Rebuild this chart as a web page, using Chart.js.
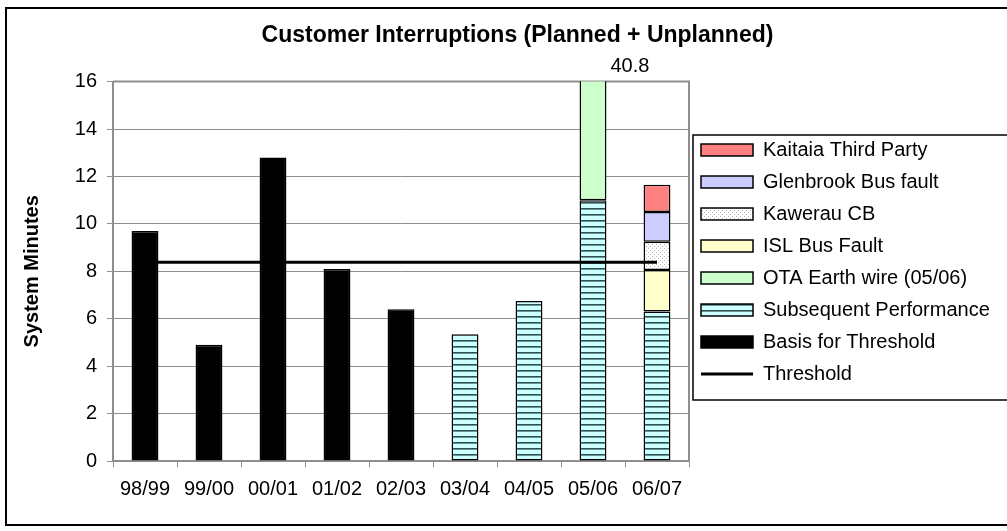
<!DOCTYPE html>
<html>
<head>
<meta charset="utf-8">
<script src="https://cdn.jsdelivr.net/npm/chart.js@4.4.1/dist/chart.umd.min.js"></script>
<style>
  html, body { margin: 0; padding: 0; overflow: hidden; background: #fff; }
  #wrap { position: relative; width: 1035px; height: 531px; }
  #frame { position: absolute; left: 5px; top: 7px; width: 1030px; height: 515px; border: 2px solid #000; pointer-events: none; }
</style>
</head>
<body>
<div id="wrap">
  <canvas id="chart"></canvas>
</div>
<div id="frame"></div>
<script>
const years = ['98/99', '99/00', '00/01', '01/02', '02/03', '03/04', '04/05', '05/06', '06/07'];

const basisForThreshold = [9.7, 4.9, 12.8, 8.1, 6.4, null, null, null, null];
const subsequentPerformance = [null, null, null, null, null, 5.35, 6.75, 11.0, 6.3];
const otaEarthWire = [null, null, null, null, null, null, null, 29.8, null];
const islBusFault = [null, null, null, null, null, null, null, null, 1.75];
const kawerauCB = [null, null, null, null, null, null, null, null, 1.2];
const glenbrookBusFault = [null, null, null, null, null, null, null, null, 1.25];
const kaitaiaThirdParty = [null, null, null, null, null, null, null, null, 1.15];
const threshold = [8.38, 8.38, 8.38, 8.38, 8.38, 8.38, 8.38, 8.38, 8.38];

const yTicks = [0, 2, 4, 6, 8, 10, 12, 14, 16];

const FONT = 'Arial, "Liberation Sans", sans-serif';
const GREY = '#8f8f8f';
const CANVAS_W = 1035;   // the original chart runs past the right edge of the picture
const PLOT_RIGHT = 689;
const SWATCH_W = 52;
const LEGEND_PAD = 12;
const LEGEND_FONT = 20;

// stripe fill for "Subsequent Performance"
const makeStripes = () => {
    const c = document.createElement('canvas');
    c.width = 8; c.height = 6;
    const g = c.getContext('2d');
    g.fillStyle = '#ccffff';
    g.fillRect(0, 0, 8, 6);
    g.fillStyle = '#2f4f4f';
    g.fillRect(0, 4, 8, 1.6);
    return g.createPattern(c, 'repeat');
};

// dotted fill for "Kawerau CB"
const makeDots = () => {
    const c = document.createElement('canvas');
    c.width = 4; c.height = 4;
    const g = c.getContext('2d');
    g.fillStyle = '#ffffff';
    g.fillRect(0, 0, 4, 4);
    g.fillStyle = '#b4b4b4';
    g.fillRect(0, 0, 1, 1);
    g.fillRect(2, 2, 1, 1);
    return g.createPattern(c, 'repeat');
};

const barSet = (label, data, fill) => ({
    type: 'bar',
    label,
    data,
    backgroundColor: fill,
    borderColor: '#000',
    borderWidth: 1.5,
    borderSkipped: false,
    stack: 'main',
    barPercentage: 0.42,
    categoryPercentage: 1.0,
});

const frameBits = {
    id: 'frameBits',
    afterInit(chart) {
        // give the legend a fixed width so the plot ends where the legend box starts
        const lg = chart.legend;
        const fit = lg.fit;
        lg.fit = function () {
            fit.call(this);
            this.width = CANVAS_W - PLOT_RIGHT;
        };
    },
    afterLayout(chart) {
        const lg = chart.legend;
        lg.left = PLOT_RIGHT;
        lg.right = CANVAS_W;
        lg.top = 128;
    },
    beforeDatasetsDraw(chart) {
        const { ctx, chartArea: a } = chart;
        ctx.save();
        ctx.strokeStyle = GREY;
        ctx.lineWidth = 2;
        ctx.beginPath();
        ctx.moveTo(a.left, a.top);
        ctx.lineTo(a.right, a.top);
        ctx.lineTo(a.right, a.bottom);
        ctx.stroke();
        ctx.restore();
    },
    afterDatasetsDraw(chart) {
        // value label for the clipped 05/06 bar
        const { ctx, chartArea: a } = chart;
        const idx = 7;
        const ds = chart.data.datasets.findIndex(d => d.label === 'OTA Earth wire (05/06)');
        const bar = chart.getDatasetMeta(ds).data[idx];
        const total = (subsequentPerformance[idx] || 0) + (otaEarthWire[idx] || 0);
        ctx.save();
        ctx.font = `20px ${FONT}`;
        ctx.fillStyle = '#000';
        ctx.textAlign = 'left';
        ctx.textBaseline = 'middle';
        ctx.fillText(total.toFixed(1), bar.x + bar.width / 2 + 4, a.top - 15);
        ctx.restore();
    },
    afterDraw(chart) {
        const { ctx } = chart;
        ctx.save();
        ctx.strokeStyle = '#000';
        ctx.lineWidth = 1.5;
        ctx.strokeRect(chart.legend.left + 4, 135, 400, 265);
        ctx.restore();
    },
};

const ctx = document.getElementById('chart').getContext('2d');
const chart = new Chart(ctx, {
    data: {
        labels: years,
        datasets: [
            {
                type: 'line',
                label: 'Threshold',
                data: threshold,
                borderColor: '#000',
                backgroundColor: '#000',
                borderWidth: 3,
                pointRadius: 0,
                fill: false,
                tension: 0,
                stack: 'thr',
            },
            barSet('Basis for Threshold', basisForThreshold, '#000'),
            barSet('Subsequent Performance', subsequentPerformance, makeStripes()),
            barSet('OTA Earth wire (05/06)', otaEarthWire, '#ccffcc'),
            barSet('ISL Bus Fault', islBusFault, '#ffffcc'),
            barSet('Kawerau CB', kawerauCB, makeDots()),
            barSet('Glenbrook Bus fault', glenbrookBusFault, '#ccccff'),
            barSet('Kaitaia Third Party', kaitaiaThirdParty, '#ff8080'),
        ],
    },
    options: {
        responsive: true,
        maintainAspectRatio: false,
        animation: false,
        layout: { padding: 0 },
        plugins: {
            title: {
                display: true,
                text: 'Customer Interruptions (Planned + Unplanned)',
                color: '#000',
                font: { family: FONT, size: 23, weight: 'bold' },
                padding: { top: 22, bottom: 32 },
            },
            legend: {
                position: 'right',
                align: 'start',
                reverse: true,
                maxWidth: CANVAS_W - PLOT_RIGHT,
                labels: {
                    color: '#000',
                    font: { family: FONT, size: LEGEND_FONT },
                    usePointStyle: true,
                    pointStyleWidth: SWATCH_W,
                    boxHeight: 12,
                    padding: LEGEND_PAD,
                    generateLabels: (c) => {
                        const items = Chart.defaults.plugins.legend.labels.generateLabels(c);
                        items.forEach(it => {
                            it.pointStyle = c.data.datasets[it.datasetIndex].type === 'line' ? 'line' : 'rect';
                        });
                        return items;
                    },
                },
            },
            tooltip: { enabled: false },
        },
        scales: {
            x: {
                stacked: true,
                grid: { display: true, drawOnChartArea: false, color: GREY, tickLength: 6, offset: true },
                border: { color: GREY, width: 2 },
                ticks: { color: '#000', font: { family: FONT, size: 20 }, padding: 10, maxRotation: 0, autoSkip: false },
                afterFit: (s) => { s.height = 70; },
            },
            y: {
                stacked: true,
                min: yTicks[0],
                max: yTicks[yTicks.length - 1],
                afterBuildTicks: (s) => { s.ticks = yTicks.map(v => ({ value: v })); },
                ticks: { color: '#000', font: { family: FONT, size: 20 }, padding: 10 },
                grid: { color: GREY, tickLength: 6 },
                border: { color: GREY, width: 2 },
                title: {
                    display: true,
                    text: 'System Minutes',
                    color: '#000',
                    font: { family: FONT, size: 20, weight: 'bold' },
                    padding: { top: 20, bottom: 0 },
                },
                afterFit: (s) => { s.width = 113; },
            },
        },
    },
    plugins: [frameBits],
});
</script>
</body>
</html>
